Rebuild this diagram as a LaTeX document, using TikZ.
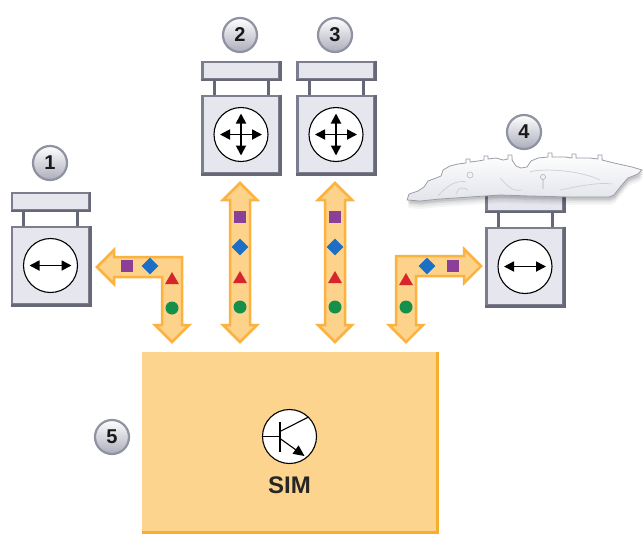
\documentclass[tikz,border=0pt]{standalone}
\usepackage{fontspec}
\newfontfamily\labelfont{Liberation Sans}
\usetikzlibrary{arrows.meta,shapes.geometric,calc}

\definecolor{sensorfill}{HTML}{E6E7EE}
\definecolor{sensoredge}{HTML}{7C7E8E}
\definecolor{sensordark}{HTML}{666878}
\definecolor{arrowfill}{HTML}{FDD28B}
\definecolor{arrowedge}{HTML}{FBB23F}
\definecolor{simfill}{HTML}{FCD48D}
\definecolor{simedge}{HTML}{F7AE2E}
\definecolor{badgeedge}{HTML}{8F92A0}
\definecolor{badgelow}{HTML}{ABADBB}
\definecolor{sqcol}{HTML}{8B3F96}
\definecolor{diacol}{HTML}{1C6FC4}
\definecolor{tricol}{HTML}{D6262B}
\definecolor{dotcol}{HTML}{15904A}
\definecolor{partedge}{HTML}{9A9CA8}
\definecolor{partshade}{HTML}{E2E4EB}

\tikzset{
  capbox/.style={rectangle, minimum width=77pt, minimum height=17pt, inner sep=0pt,
    fill=sensorfill, draw=sensoredge, line width=2.2pt},
  bodybox/.style={rectangle, minimum width=77pt, minimum height=77pt, inner sep=0pt,
    fill=sensorfill, draw=sensoredge, line width=2.2pt},
  leg/.style={draw=sensordark, line width=3pt},
  dial/.style={circle, minimum size=54pt, inner sep=0pt, fill=white, draw=black, line width=1.1pt},
  dialarrow/.style={line width=1.8pt, {Triangle[length=10pt,width=10pt]}-{Triangle[length=10pt,width=10pt]}},
  badge/.style={circle, minimum size=34pt, inner sep=0pt, draw=badgeedge, line width=2.2pt,
    top color=white, bottom color=badgelow, font=\labelfont\bfseries\fontsize{20}{20}\selectfont,
    text=black!90},
  flow/.style={fill=arrowfill, draw=arrowedge, line width=2.5pt, line join=miter},
  sq/.style={rectangle, minimum size=12pt, inner sep=0pt, fill=sqcol},
  dia/.style={diamond, minimum size=17pt, inner sep=0pt, fill=diacol},
  tri/.style={regular polygon, regular polygon sides=3, minimum size=16pt, inner sep=0pt, fill=tricol},
  dot/.style={circle, minimum size=13pt, inner sep=0pt, fill=dotcol},
  simbox/.style={rectangle, minimum width=295pt, minimum height=180pt, inner sep=0pt, fill=simfill},
  trans/.style={line width=1.1pt, draw=black},
}

% sensor: #1 name, #2 x centre, #3 top of cap, #4 dial content
\newcommand{\sensorunit}[4]{%
  \node[capbox] (#1cap) at (#2, #3+8.5) {};
  \draw[leg] ($(#1cap.south)+(-27,0)$) -- ++(0,17);
  \draw[leg] ($(#1cap.south)+(27,0)$) -- ++(0,17);
  \node[bodybox] (#1) at (#2, #3+72.5) {};
  \draw[sensordark, line width=2.8pt] (#1.north east) -- (#1.south east) -- (#1.south west);
  \draw[sensordark, line width=2.6pt] (#1cap.north east) -- (#1cap.south east) -- (#1cap.south west);
  \node[dial] (#1dial) at (#1.center) {};
  \draw[dialarrow] ($(#1dial.center)+(-21,0)$) -- ($(#1dial.center)+(21,0)$);
  #4
}
\newcommand{\vertarrow}[1]{%
  \draw[dialarrow] ($(#1.center)+(0,-21)$) -- ($(#1.center)+(0,21)$);
}

\begin{document}
\begin{tikzpicture}[x=1pt, y=-1pt]
\useasboundingbox (0,0) rectangle (644,539);

% ---- sensors ----
\sensorunit{s1}{50.5}{193}{}
\sensorunit{s2}{241}{62}{\vertarrow{s2dial}}
\sensorunit{s3}{336}{62}{\vertarrow{s3dial}}
\sensorunit{s4}{525}{194}{}

% ---- trim panel resting on sensor 4 ----
\def\partoutline{(407,200) -- (409,194) -- (418,191) -- (424,187) -- (428,181) -- (436,178)
  -- (441,176) -- (443,170) -- (450,166) -- (458,164) -- (466,163) -- (466,159) -- (470,159)
  -- (470,162) -- (478,161) -- (484,160) -- (484,156) -- (488,156) -- (488,159) -- (496,158)
  -- (503,160) -- (508,159) -- (508,155) -- (512,155) -- (512,160) -- (516,166) -- (521,168)
  -- (527,167) -- (531,161) -- (538,158) -- (548,157) -- (548,153) -- (552,153) -- (552,157)
  -- (565,157) -- (572,158) -- (572,154) -- (576,154) -- (576,158) -- (590,158) -- (598,159)
  -- (598,155) -- (602,155) -- (602,160) -- (614,163) -- (632,167) -- (642,170) -- (638,174)
  -- (628,178) -- (621,186) -- (614,195) -- (609,197) -- (570,197) -- (530,196) -- (500,195)
  -- (470,197) -- (440,199) -- (420,201) -- cycle}
\foreach \d/\o in {8/0.04, 6/0.05, 4/0.07, 2.5/0.09}
  \fill[black, opacity=\o] [shift={(1,\d)}] \partoutline;
\shade[top color=white, bottom color=partshade, draw=partedge, line width=0.8pt] \partoutline;
\draw[partedge!70, line width=0.6pt] (470,175) circle (3);
\draw[partedge!80, line width=0.6pt] (543,177) circle (2.5) (543,179.5) -- (543,189);
\draw[partedge!50, line width=0.7pt] (438,196) .. controls (448,184) and (458,180) .. (466,182)
  (456,194) .. controls (458,188) and (462,186) .. (468,190)
  (500,178) .. controls (508,186) and (512,192) .. (522,190)
  (530,172) .. controls (540,168) and (580,170) .. (600,180)
  (560,190) .. controls (580,186) and (600,182) .. (612,184);

% ---- processing box ----
\node[simbox] (sim) at (289.5,442) {};
\draw[simedge, line width=3pt] (sim.north east) -- (sim.south east) -- (sim.south west);
\node[circle, minimum size=54pt, inner sep=0pt, fill=white, draw=black, line width=1.1pt] (tr) at (289.5,436.5) {};
\draw[trans] ($(tr.center)+(-27,0)$) -- ($(tr.center)+(-9.5,0)$);
\draw[trans, line width=1.4pt] ($(tr.center)+(-9.5,-14.5)$) -- ($(tr.center)+(-9.5,15)$);
\draw[trans] ($(tr.center)+(-9.5,-5)$) -- ($(tr.center)+(19,-19.5)$);
\draw[trans, -{Triangle[length=11pt,width=10pt]}] ($(tr.center)+(-9.5,2)$) -- ($(tr.center)+(15,19.5)$);
\node[font=\labelfont\bfseries\fontsize{24}{24}\selectfont, text=black!85] (simlabel) at (289.5,485) {SIM};

% ---- data flow arrows ----
% sensor 1 <-> box
\path[flow] (97,267) -- (114,250) -- (114,257) -- (182,257) -- (182,325) -- (189,325)
  -- (172,342) -- (155,325) -- (162,325) -- (162,277) -- (114,277) -- (114,284) -- cycle;
% sensors 2 and 3 <-> box
\foreach \c in {240,335}
  \path[flow] (\c,183) -- (\c+17,200) -- (\c+10,200) -- (\c+10,325) -- (\c+17,325) -- (\c,342)
    -- (\c-17,325) -- (\c-10,325) -- (\c-10,200) -- (\c-17,200) -- cycle;
% sensor 4 <-> box
\path[flow] (481,266) -- (464,249) -- (464,256) -- (396,256) -- (396,325) -- (389,325)
  -- (406,342) -- (423,325) -- (416,325) -- (416,276) -- (464,276) -- (464,283) -- cycle;

% ---- signal symbols ----
\node[sq] (a1) at (127,266) {};
\node[dia] (b1) at (150,266) {};
\node[tri] (c1) at (172,280) {};
\node[dot] (d1) at (172,308) {};
\foreach \c/\n in {240/2,335/3}{
  \node[sq] (a\n) at (\c,217) {};
  \node[dia] (b\n) at (\c,247) {};
  \node[tri] (c\n) at (\c,279) {};
  \node[dot] (d\n) at (\c,307) {};
}
\node[tri] (c4) at (406,281) {};
\node[dot] (d4) at (406,307) {};
\node[dia] (b4) at (427,266) {};
\node[sq] (a4) at (453,266) {};

% ---- numbered badges ----
\node[badge] (n1) at (50,163) {1};
\node[badge] (n2) at (240,35) {2};
\node[badge] (n3) at (335,35) {3};
\node[badge] (n4) at (524,132) {4};
\node[badge] (n5) at (112,437) {5};
\end{tikzpicture}
\end{document}
